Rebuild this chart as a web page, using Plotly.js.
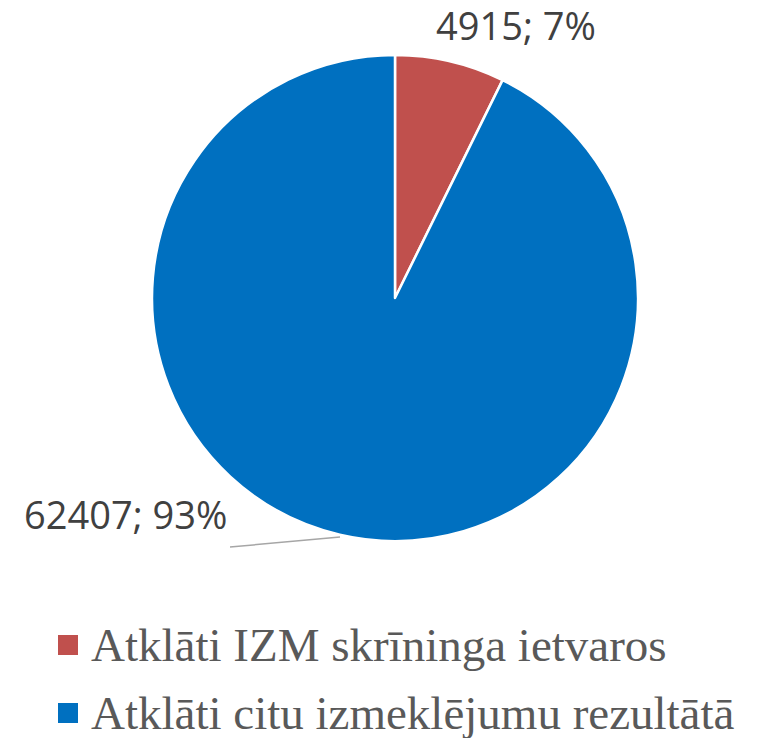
<!DOCTYPE html>
<html><head><meta charset="utf-8">
<script src="https://cdn.plot.ly/plotly-3.0.1.min.js"></script>
<style>html,body{margin:0;padding:0;background:#fff}#chart{width:762px;height:738px}</style>
</head><body><div id="chart"></div>
<script>
const categories = ["Atklāti IZM skrīninga ietvaros", "Atklāti citu izmeklējumu rezultātā"];
const values = [4915, 62407];
const colors = ["#C0504D", "#0070C0"];

const W = 762, H = 738;
const px = v => v / W, py = v => 1 - v / H;
const total = values.reduce((a, b) => a + b, 0);
const labelText = values.map(v => v + "; " + Math.round(v / total * 100) + "%");

const trace = {
  type: "pie",
  labels: categories,
  values: values,
  sort: false,
  direction: "clockwise",
  rotation: 0,
  marker: {colors: colors, line: {color: "#ffffff", width: 2.5}},
  textinfo: "none",
  hoverinfo: "label+value+percent",
  showlegend: false,
  domain: {x: [px(152), px(638)], y: [py(541), py(55)]}
};

const labelPos = [[516, 25], [125, 514]];
const annotations = labelText.map((t, i) => ({
  text: t, xref: "paper", yref: "paper",
  x: px(labelPos[i][0]), y: py(labelPos[i][1]),
  xanchor: "center", yanchor: "middle", showarrow: false,
  font: {family: "Open Sans, sans-serif", size: 38, color: "#404040"}
}));

const legendRows = [645, 713];
categories.forEach((c, i) => {
  annotations.push({
    text: c, xref: "paper", yref: "paper",
    x: px(90), y: py(legendRows[i]), xanchor: "left", yanchor: "middle",
    showarrow: false, borderpad: 0,
    font: {family: "Liberation Serif, serif", size: 47, color: "#595959"}
  });
});

const shapes = legendRows.map((r, i) => ({
  type: "rect", xref: "paper", yref: "paper",
  x0: px(58), x1: px(78), y0: py(r + 10), y1: py(r - 10),
  fillcolor: colors[i], line: {width: 0}
}));
shapes.push({
  type: "line", xref: "paper", yref: "paper",
  x0: px(230), y0: py(547), x1: px(340), y1: py(537),
  line: {color: "#A6A6A6", width: 1.5}
});

Plotly.newPlot("chart", [trace], {
  width: W, height: H,
  margin: {l: 0, r: 0, t: 0, b: 0},
  paper_bgcolor: "#ffffff",
  showlegend: false,
  annotations: annotations,
  shapes: shapes
}, {displayModeBar: false, staticPlot: true});
</script></body></html>
